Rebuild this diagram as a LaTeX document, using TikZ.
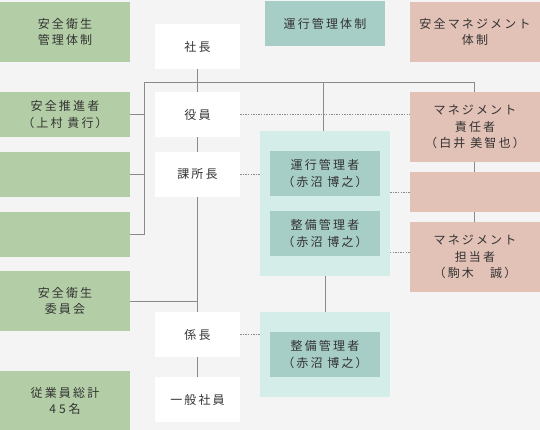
\documentclass[tikz,border=0pt]{standalone}
\usepackage{fontspec}
\newfontfamily\jp[LetterSpace=18]{Noto Sans CJK JP}
\definecolor{bgc}{HTML}{F4F4F4}
\definecolor{grn}{HTML}{B3CEA6}
\definecolor{tealc}{HTML}{A6CDC6}
\definecolor{panelc}{HTML}{D5EDE8}
\definecolor{pinkc}{HTML}{E2C1B6}
\definecolor{txt}{HTML}{333333}
\definecolor{lnc}{HTML}{8A8A8A}
\begin{document}
\begin{tikzpicture}[x=1pt,y=-1pt,
  box/.style={inner sep=0pt, align=center, text=txt, font=\jp\fontsize{12}{16.5}\selectfont},
  gbox/.style={box, fill=grn, minimum width=130pt},
  wbox/.style={box, fill=white, minimum width=85pt, minimum height=45pt},
  pbox/.style={box, fill=pinkc, minimum width=130pt},
  ibox/.style={box, fill=tealc, minimum width=110pt, minimum height=45pt},
  panel/.style={fill=panelc, inner sep=0pt, minimum width=130pt},
  ln/.style={draw=lnc, line width=0.9pt},
  dot/.style={draw=lnc, line width=0.7pt, dash pattern=on 1.3pt off 1.3pt}]
\fill[bgc] (0,0) rectangle (540,430);
\useasboundingbox (0,0) rectangle (540,430);
% left column
\node[gbox, minimum height=60pt] (g1) at (65,32) {安全衛生\\管理体制};
\node[gbox, minimum height=45pt] (g2) at (65,114.5) {安全推進者\\（上村 貴行）};
\node[gbox, minimum height=45pt] (g3) at (65,174.5) {};
\node[gbox, minimum height=45pt] (g4) at (65,234.5) {};
\node[gbox, minimum height=60pt] (g5) at (65,301) {安全衛生\\委員会};
\node[gbox, minimum height=60pt] (g6) at (65,401) {従業員総計\\4\kern3pt 5\kern3pt 名};
% centre column
\node[wbox] (w1) at (197.5,46.5) {社長};
\node[wbox] (w2) at (197.5,114.5) {役員};
\node[wbox] (w3) at (197.5,174.5) {課所長};
\node[wbox] (w4) at (197.5,334.5) {係長};
\node[wbox] (w5) at (197.5,399.5) {一般社員};
% teal column
\node[box, fill=tealc, minimum width=120pt, minimum height=45pt] (t0) at (325,23.5) {運行管理体制};
\node[panel, minimum height=145pt] (pa1) at (325,203.5) {};
\node[ibox] (i1) at (325,173.5) {運行管理者\\（赤沼 博之）};
\node[ibox] (i2) at (325,233.5) {整備管理者\\（赤沼 博之）};
\node[panel, minimum height=85pt] (pa2) at (325,354.5) {};
\node[ibox] (i3) at (325,354.5) {整備管理者\\（赤沼 博之）};
% pink column
\node[pbox, minimum height=60pt] (p0) at (475,32) {安全マネジメント\\体制};
\node[pbox, minimum height=70pt] (p1) at (475,127) {マネジメント\\責任者\\（白井 美智也）};
\node[pbox, minimum height=40pt] (p2) at (475,192) {};
\node[pbox, minimum height=70pt] (p3) at (475,257) {マネジメント\\担当者\\（駒木　誠）};
% solid connectors
\coordinate (busL) at (144,82);
\coordinate (busR) at (474,82);
\coordinate (busM) at (323.5,82);
\draw[ln] (g4.east) -| (busL) -- (busR) -- (busR |- p1.north);
\draw[ln] (g2.east) -- (g2.east -| busL);
\draw[ln] (g3.east) -- (g3.east -| busL);
\draw[ln] (w1.south) -- (w2.north);
\draw[ln] (w2.south) -- (w3.north);
\draw[ln] (w3.south) -- (w4.north);
\draw[ln] (g5.east) -- (g5.east -| w3.south);
\draw[ln] (w4.south) -- (w5.north);
\draw[ln] (busM) -- (busM |- pa1.north);
\draw[ln] (pa1.south) -- (pa2.north);
\draw[ln] (p1.south -| busR) -- (p2.north -| busR);
\draw[ln] (p2.south -| busR) -- (p3.north -| busR);
% dotted connectors
\coordinate (d4) at (390,252);
\draw[dot] (w2.east) -- (w2.east -| p1.west);
\draw[dot] (w3.east) -- (w3.east -| pa1.west);
\draw[dot] (p2.west -| pa1.east) -- (p2.west);
\draw[dot] (d4) -- (d4 -| p3.west);
\draw[dot] (w4.east) -- (w4.east -| pa2.west);
\end{tikzpicture}
\end{document}
